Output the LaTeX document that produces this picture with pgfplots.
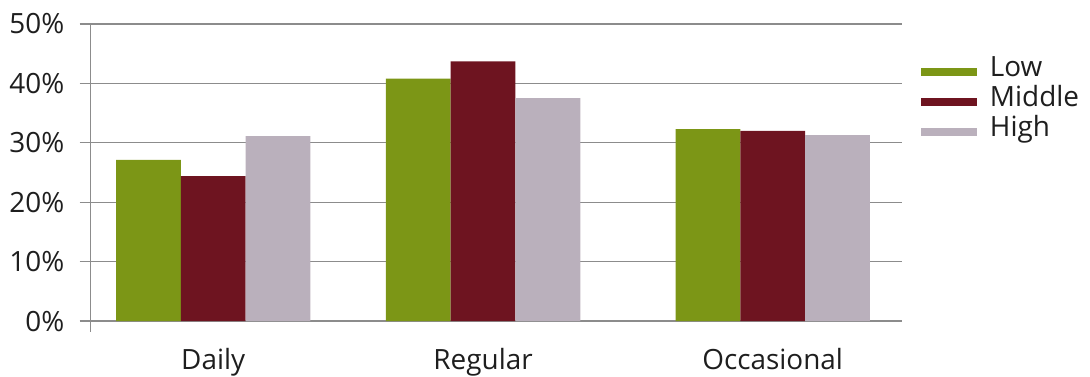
\documentclass[border=0pt]{standalone}
\usepackage{pgfplots}
\pgfplotsset{compat=1.18}
\usepackage{fontspec}
\setmainfont{Open Sans}

\definecolor{lowc}{RGB}{124,150,22}
\definecolor{midc}{RGB}{110,20,32}
\definecolor{highc}{RGB}{186,176,188}
\definecolor{gridc}{RGB}{140,140,140}
\definecolor{txt}{RGB}{30,30,30}

\begin{document}
\begin{tikzpicture}
\begin{axis}[
  at={(0,0)}, anchor=south west,
  scale only axis,
  width=407pt, height=154.5pt,
  xmin=-0.438, xmax=2.461,
  ymin=-1.8, ymax=50,
  axis x line*=bottom,
  axis y line*=left,
  x axis line style={draw=none},
  y axis line style={gridc, line width=0.6pt, -},
  ytick={0,10,20,30,40,50},
  yticklabel={\pgfmathprintnumber{\tick}\%},
  ymajorgrids,
  grid style={gridc, line width=0.6pt},
  tick align=outside,
  major tick length=5.5pt,
  ytick style={gridc, line width=0.6pt},
  xtick style={draw=none},
  yticklabel style={font=\fontsize{14}{15}\selectfont, text=txt, anchor=east, inner sep=0pt, xshift=-7.5pt},
  xticklabel style={font=\fontsize{14}{15}\selectfont, text=txt, anchor=base, inner sep=0pt, yshift=-13.5pt},
  /pgf/number format/assume math mode=true,
  xtick={0,0.965,2},
  xticklabels={Daily,Regular,Occasional},
  ybar=0pt,
  bar width=0.2315,
  legend style={
    at={(1.0163,0.907)}, anchor=north west,
    draw=none, fill=none,
    font=\fontsize{14}{15}\selectfont, text=txt,
    nodes={text height=7.5pt, text depth=2.5pt, inner sep=2.5pt},
  },
  legend cell align=left,
  legend image code/.code={\fill[#1] (0pt,-2pt) rectangle (28pt,2pt); \path (32pt,0pt);},
]
\addplot[fill=lowc, draw=none, bar shift=-0.2315] coordinates {(0,27.1) (0.965,40.8) (2,32.3)};
\addplot[fill=midc, draw=none, bar shift=0] coordinates {(0,24.4) (0.965,43.7) (2,32.0)};
\addplot[fill=highc, draw=none, bar shift=0.2315] coordinates {(0,31.1) (0.965,37.5) (2,31.3)};
\legend{Low,Middle,High}
\end{axis}
\path[use as bounding box] (-45.5pt,-20.5pt) rectangle (499.5pt,166.5pt);
\end{tikzpicture}
\end{document}
